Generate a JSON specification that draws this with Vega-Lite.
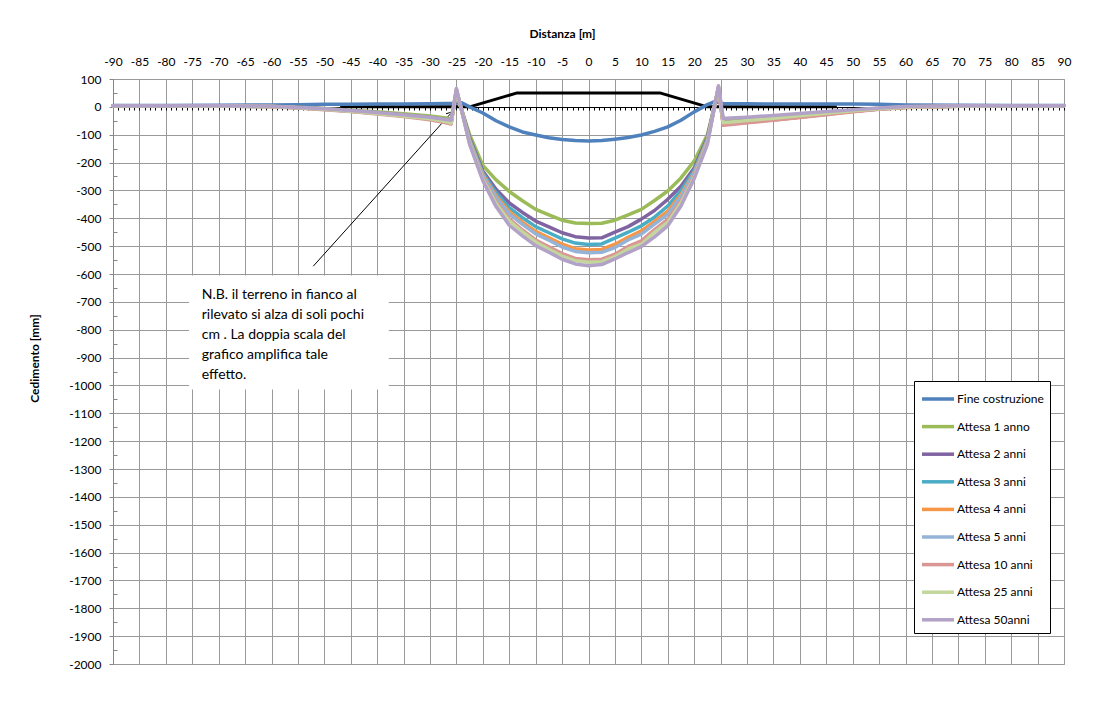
{
  "$schema": "https://vega.github.io/schema/vega-lite/v6.json",
  "width": 951,
  "height": 585,
  "autosize": "none",
  "padding": {"left": 113, "top": 79, "right": 30, "bottom": 51},
  "background": "white",
  "config": {
    "font": "Lato",
    "view": {"stroke": "#999999", "strokeWidth": 1},
    "axis": {"labelFont": "Lato", "titleFont": "Lato", "labelColor": "#000000", "titleColor": "#000000"}
  },
  "datasets": {
    "curves": [
      {"x": -90, "Fine costruzione": 5, "Attesa 1 anno": 4, "Attesa 2 anni": 4, "Attesa 3 anni": 4, "Attesa 4 anni": 4, "Attesa 5 anni": 4, "Attesa 10 anni": 4, "Attesa 25 anni": 4, "Attesa 50anni": 4},
      {"x": -80, "Fine costruzione": 5, "Attesa 1 anno": 4, "Attesa 2 anni": 4, "Attesa 3 anni": 4, "Attesa 4 anni": 4, "Attesa 5 anni": 4, "Attesa 10 anni": 4, "Attesa 25 anni": 4, "Attesa 50anni": 4},
      {"x": -70, "Fine costruzione": 6, "Attesa 1 anno": 4, "Attesa 2 anni": 4, "Attesa 3 anni": 3, "Attesa 4 anni": 3, "Attesa 5 anni": 3, "Attesa 10 anni": 3, "Attesa 25 anni": 3, "Attesa 50anni": 4},
      {"x": -60, "Fine costruzione": 7, "Attesa 1 anno": 2, "Attesa 2 anni": 2, "Attesa 3 anni": 1, "Attesa 4 anni": 1, "Attesa 5 anni": 1, "Attesa 10 anni": 0, "Attesa 25 anni": 1, "Attesa 50anni": 2},
      {"x": -55, "Fine costruzione": 8, "Attesa 1 anno": -1, "Attesa 2 anni": -2, "Attesa 3 anni": -3, "Attesa 4 anni": -3, "Attesa 5 anni": -3, "Attesa 10 anni": -4, "Attesa 25 anni": -3, "Attesa 50anni": -2},
      {"x": -50, "Fine costruzione": 9, "Attesa 1 anno": -6, "Attesa 2 anni": -7, "Attesa 3 anni": -8, "Attesa 4 anni": -9, "Attesa 5 anni": -9, "Attesa 10 anni": -10, "Attesa 25 anni": -9, "Attesa 50anni": -7},
      {"x": -45, "Fine costruzione": 9, "Attesa 1 anno": -12, "Attesa 2 anni": -14, "Attesa 3 anni": -15, "Attesa 4 anni": -16, "Attesa 5 anni": -16, "Attesa 10 anni": -17, "Attesa 25 anni": -16, "Attesa 50anni": -13},
      {"x": -40, "Fine costruzione": 10, "Attesa 1 anno": -18, "Attesa 2 anni": -21, "Attesa 3 anni": -23, "Attesa 4 anni": -24, "Attesa 5 anni": -24, "Attesa 10 anni": -26, "Attesa 25 anni": -24, "Attesa 50anni": -20},
      {"x": -35, "Fine costruzione": 10, "Attesa 1 anno": -25, "Attesa 2 anni": -29, "Attesa 3 anni": -31, "Attesa 4 anni": -33, "Attesa 5 anni": -33, "Attesa 10 anni": -35, "Attesa 25 anni": -33, "Attesa 50anni": -28},
      {"x": -30, "Fine costruzione": 11, "Attesa 1 anno": -33, "Attesa 2 anni": -38, "Attesa 3 anni": -41, "Attesa 4 anni": -43, "Attesa 5 anni": -43, "Attesa 10 anni": -46, "Attesa 25 anni": -43, "Attesa 50anni": -37},
      {"x": -27, "Fine costruzione": 12, "Attesa 1 anno": -40, "Attesa 2 anni": -46, "Attesa 3 anni": -50, "Attesa 4 anni": -53, "Attesa 5 anni": -53, "Attesa 10 anni": -57, "Attesa 25 anni": -53, "Attesa 50anni": -45},
      {"x": -26, "Fine costruzione": 12, "Attesa 1 anno": -44, "Attesa 2 anni": -50, "Attesa 3 anni": -55, "Attesa 4 anni": -58, "Attesa 5 anni": -58, "Attesa 10 anni": -62, "Attesa 25 anni": -58, "Attesa 50anni": -48},
      {"x": -25, "Fine costruzione": 14, "Attesa 1 anno": 50, "Attesa 2 anni": 54, "Attesa 3 anni": 56, "Attesa 4 anni": 58, "Attesa 5 anni": 60, "Attesa 10 anni": 62, "Attesa 25 anni": 63, "Attesa 50anni": 66},
      {"x": -24, "Fine costruzione": 15, "Attesa 1 anno": null, "Attesa 2 anni": null, "Attesa 3 anni": null, "Attesa 4 anni": null, "Attesa 5 anni": null, "Attesa 10 anni": null, "Attesa 25 anni": null, "Attesa 50anni": null},
      {"x": -22.5, "Fine costruzione": 0, "Attesa 1 anno": -100, "Attesa 2 anni": -111, "Attesa 3 anni": -116, "Attesa 4 anni": -121, "Attesa 5 anni": -123, "Attesa 10 anni": -129, "Attesa 25 anni": -131, "Attesa 50anni": -135},
      {"x": -20, "Fine costruzione": -22, "Attesa 1 anno": -210, "Attesa 2 anni": -230, "Attesa 3 anni": -237, "Attesa 4 anni": -243, "Attesa 5 anni": -247, "Attesa 10 anni": -256, "Attesa 25 anni": -260, "Attesa 50anni": -265},
      {"x": -17.5, "Fine costruzione": -50, "Attesa 1 anno": -262, "Attesa 2 anni": -296, "Attesa 3 anni": -308, "Attesa 4 anni": -320, "Attesa 5 anni": -326, "Attesa 10 anni": -341, "Attesa 25 anni": -347, "Attesa 50anni": -358},
      {"x": -15, "Fine costruzione": -72, "Attesa 1 anno": -304, "Attesa 2 anni": -345, "Attesa 3 anni": -362, "Attesa 4 anni": -376, "Attesa 5 anni": -384, "Attesa 10 anni": -402, "Attesa 25 anni": -409, "Attesa 50anni": -425},
      {"x": -12.5, "Fine costruzione": -90, "Attesa 1 anno": -337, "Attesa 2 anni": -379, "Attesa 3 anni": -398, "Attesa 4 anni": -414, "Attesa 5 anni": -422, "Attesa 10 anni": -442, "Attesa 25 anni": -449, "Attesa 50anni": -463},
      {"x": -10, "Fine costruzione": -101, "Attesa 1 anno": -368, "Attesa 2 anni": -410, "Attesa 3 anni": -430, "Attesa 4 anni": -447, "Attesa 5 anni": -456, "Attesa 10 anni": -478, "Attesa 25 anni": -485, "Attesa 50anni": -498},
      {"x": -7.5, "Fine costruzione": -111, "Attesa 1 anno": -388, "Attesa 2 anni": -431, "Attesa 3 anni": -452, "Attesa 4 anni": -470, "Attesa 5 anni": -479, "Attesa 10 anni": -502, "Attesa 25 anni": -511, "Attesa 50anni": -522},
      {"x": -5, "Fine costruzione": -117, "Attesa 1 anno": -407, "Attesa 2 anni": -452, "Attesa 3 anni": -474, "Attesa 4 anni": -493, "Attesa 5 anni": -503, "Attesa 10 anni": -527, "Attesa 25 anni": -536, "Attesa 50anni": -547},
      {"x": -2.5, "Fine costruzione": -121, "Attesa 1 anno": -417, "Attesa 2 anni": -466, "Attesa 3 anni": -489, "Attesa 4 anni": -509, "Attesa 5 anni": -519, "Attesa 10 anni": -544, "Attesa 25 anni": -552, "Attesa 50anni": -564},
      {"x": 0, "Fine costruzione": -123, "Attesa 1 anno": -419, "Attesa 2 anni": -471, "Attesa 3 anni": -494, "Attesa 4 anni": -514, "Attesa 5 anni": -524, "Attesa 10 anni": -549, "Attesa 25 anni": -558, "Attesa 50anni": -570},
      {"x": 2.5, "Fine costruzione": -121, "Attesa 1 anno": -418, "Attesa 2 anni": -470, "Attesa 3 anni": -492, "Attesa 4 anni": -512, "Attesa 5 anni": -522, "Attesa 10 anni": -547, "Attesa 25 anni": -556, "Attesa 50anni": -566},
      {"x": 5, "Fine costruzione": -116, "Attesa 1 anno": -407, "Attesa 2 anni": -450, "Attesa 3 anni": -471, "Attesa 4 anni": -493, "Attesa 5 anni": -505, "Attesa 10 anni": -529, "Attesa 25 anni": -538, "Attesa 50anni": -546},
      {"x": 7.5, "Fine costruzione": -110, "Attesa 1 anno": -388, "Attesa 2 anni": -430, "Attesa 3 anni": -450, "Attesa 4 anni": -468, "Attesa 5 anni": -478, "Attesa 10 anni": -501, "Attesa 25 anni": -510, "Attesa 50anni": -523},
      {"x": 10, "Fine costruzione": -101, "Attesa 1 anno": -368, "Attesa 2 anni": -403, "Attesa 3 anni": -427, "Attesa 4 anni": -445, "Attesa 5 anni": -457, "Attesa 10 anni": -481, "Attesa 25 anni": -493, "Attesa 50anni": -502},
      {"x": 12.5, "Fine costruzione": -88, "Attesa 1 anno": -336, "Attesa 2 anni": -372, "Attesa 3 anni": -396, "Attesa 4 anni": -411, "Attesa 5 anni": -421, "Attesa 10 anni": -441, "Attesa 25 anni": -450, "Attesa 50anni": -467},
      {"x": 15, "Fine costruzione": -72, "Attesa 1 anno": -302, "Attesa 2 anni": -332, "Attesa 3 anni": -356, "Attesa 4 anni": -374, "Attesa 5 anni": -386, "Attesa 10 anni": -404, "Attesa 25 anni": -415, "Attesa 50anni": -427},
      {"x": 17.5, "Fine costruzione": -48, "Attesa 1 anno": -255, "Attesa 2 anni": -285, "Attesa 3 anni": -300, "Attesa 4 anni": -315, "Attesa 5 anni": -322, "Attesa 10 anni": -338, "Attesa 25 anni": -345, "Attesa 50anni": -356},
      {"x": 20, "Fine costruzione": -18, "Attesa 1 anno": -195, "Attesa 2 anni": -220, "Attesa 3 anni": -228, "Attesa 4 anni": -236, "Attesa 5 anni": -240, "Attesa 10 anni": -250, "Attesa 25 anni": -254, "Attesa 50anni": -258},
      {"x": 22.5, "Fine costruzione": 8, "Attesa 1 anno": -100, "Attesa 2 anni": -110, "Attesa 3 anni": -115, "Attesa 4 anni": -120, "Attesa 5 anni": -122, "Attesa 10 anni": -127, "Attesa 25 anni": -130, "Attesa 50anni": -135},
      {"x": 24, "Fine costruzione": 20, "Attesa 1 anno": null, "Attesa 2 anni": null, "Attesa 3 anni": null, "Attesa 4 anni": null, "Attesa 5 anni": null, "Attesa 10 anni": null, "Attesa 25 anni": null, "Attesa 50anni": null},
      {"x": 24.6, "Fine costruzione": 16, "Attesa 1 anno": 62, "Attesa 2 anni": 65, "Attesa 3 anni": 67, "Attesa 4 anni": 68, "Attesa 5 anni": 70, "Attesa 10 anni": 71, "Attesa 25 anni": 73, "Attesa 50anni": 76},
      {"x": 25.5, "Fine costruzione": 12, "Attesa 1 anno": -48, "Attesa 2 anni": -56, "Attesa 3 anni": -60, "Attesa 4 anni": -64, "Attesa 5 anni": -62, "Attesa 10 anni": -66, "Attesa 25 anni": -56, "Attesa 50anni": -42},
      {"x": 27, "Fine costruzione": 11, "Attesa 1 anno": -46, "Attesa 2 anni": -54, "Attesa 3 anni": -58, "Attesa 4 anni": -62, "Attesa 5 anni": -60, "Attesa 10 anni": -63, "Attesa 25 anni": -54, "Attesa 50anni": -40},
      {"x": 30, "Fine costruzione": 11, "Attesa 1 anno": -42, "Attesa 2 anni": -50, "Attesa 3 anni": -53, "Attesa 4 anni": -56, "Attesa 5 anni": -55, "Attesa 10 anni": -57, "Attesa 25 anni": -49, "Attesa 50anni": -37},
      {"x": 35, "Fine costruzione": 10, "Attesa 1 anno": -35, "Attesa 2 anni": -42, "Attesa 3 anni": -45, "Attesa 4 anni": -47, "Attesa 5 anni": -46, "Attesa 10 anni": -48, "Attesa 25 anni": -41, "Attesa 50anni": -31},
      {"x": 40, "Fine costruzione": 10, "Attesa 1 anno": -27, "Attesa 2 anni": -33, "Attesa 3 anni": -35, "Attesa 4 anni": -37, "Attesa 5 anni": -36, "Attesa 10 anni": -38, "Attesa 25 anni": -32, "Attesa 50anni": -24},
      {"x": 45, "Fine costruzione": 10, "Attesa 1 anno": -19, "Attesa 2 anni": -24, "Attesa 3 anni": -26, "Attesa 4 anni": -27, "Attesa 5 anni": -26, "Attesa 10 anni": -28, "Attesa 25 anni": -23, "Attesa 50anni": -17},
      {"x": 50, "Fine costruzione": 10, "Attesa 1 anno": -12, "Attesa 2 anni": -15, "Attesa 3 anni": -16, "Attesa 4 anni": -17, "Attesa 5 anni": -16, "Attesa 10 anni": -18, "Attesa 25 anni": -14, "Attesa 50anni": -10},
      {"x": 55, "Fine costruzione": 9, "Attesa 1 anno": -5, "Attesa 2 anni": -7, "Attesa 3 anni": -8, "Attesa 4 anni": -8, "Attesa 5 anni": -8, "Attesa 10 anni": -9, "Attesa 25 anni": -7, "Attesa 50anni": -4},
      {"x": 60, "Fine costruzione": 7, "Attesa 1 anno": 0, "Attesa 2 anni": -1, "Attesa 3 anni": -1, "Attesa 4 anni": -2, "Attesa 5 anni": -1, "Attesa 10 anni": -2, "Attesa 25 anni": -1, "Attesa 50anni": 1},
      {"x": 70, "Fine costruzione": 6, "Attesa 1 anno": 3, "Attesa 2 anni": 3, "Attesa 3 anni": 2, "Attesa 4 anni": 2, "Attesa 5 anni": 2, "Attesa 10 anni": 2, "Attesa 25 anni": 3, "Attesa 50anni": 4},
      {"x": 80, "Fine costruzione": 5, "Attesa 1 anno": 4, "Attesa 2 anni": 4, "Attesa 3 anni": 4, "Attesa 4 anni": 4, "Attesa 5 anni": 4, "Attesa 10 anni": 4, "Attesa 25 anni": 4, "Attesa 50anni": 4},
      {"x": 90, "Fine costruzione": 5, "Attesa 1 anno": 4, "Attesa 2 anni": 4, "Attesa 3 anni": 4, "Attesa 4 anni": 4, "Attesa 5 anni": 4, "Attesa 10 anni": 4, "Attesa 25 anni": 4, "Attesa 50anni": 4}
    ],
    "profile": [
      {"x": -47, "y": 0}, {"x": -22.5, "y": 0}, {"x": -13.5, "y": 50}, {"x": 13.5, "y": 50}, {"x": 22.5, "y": 0}, {"x": 47, "y": 0}
    ],
    "box": [{"x1": -75.6, "x2": -37.8, "y1": -605, "y2": -1015}],
    "note": [{"x": -73.2, "y": -651, "t": "N.B. il terreno in fianco al\nrilevato si alza di soli pochi\ncm . La doppia scala del\ngrafico amplifica tale\neffetto."}],
    "arrow": [{"x1": -52.1, "y1": -572, "x2": -25.8, "y2": -18}]
  },
  "layer": [
    {
      "data": {"name": "profile"},
      "mark": {"type": "line", "color": "#000000", "strokeWidth": 3, "strokeJoin": "round"},
      "encoding": {
        "x": {"field": "x", "type": "quantitative", "scale": {"domain": [-90, 90], "nice": false, "zero": false},
          "axis": {"orient": "top", "values": [-90,-85,-80,-75,-70,-65,-60,-55,-50,-45,-40,-35,-30,-25,-20,-15,-10,-5,0,5,10,15,20,25,30,35,40,45,50,55,60,65,70,75,80,85,90],
            "labelExpr": "'' + datum.value",
            "grid": true, "gridColor": "#999999", "gridWidth": 1, "ticks": false, "tickSize": 0, "domain": false,
            "labelFontSize": 12, "labelPadding": 11, "labelFlush": false, "labelOverlap": false,
            "title": "Distanza  [m]", "titleFontSize": 12, "titleFontWeight": "bold", "titlePadding": 15, "titleX": 449}},
        "y": {"field": "y", "type": "quantitative", "scale": {"domain": [-2000, 100], "nice": false, "zero": false},
          "axis": {"orient": "left", "values": [-2000,-1900,-1800,-1700,-1600,-1500,-1400,-1300,-1200,-1100,-1000,-900,-800,-700,-600,-500,-400,-300,-200,-100,0,100],
            "labelExpr": "'' + datum.value",
            "grid": true, "gridColor": "#999999", "gridWidth": 1, "domain": true, "domainColor": "#868686", "tickColor": "#868686", "tickSize": 4,
            "labelFontSize": 12, "labelPadding": 8, "labelFlush": false, "labelOverlap": false,
            "title": "Cedimento [mm]", "titleFontSize": 12, "titleFontWeight": "bold", "titleX": -79, "titleY": 279, "titleAlign": "center", "titleBaseline": "middle", "titleAngle": 270}}
      }
    },
    {
      "data": {"name": "box"},
      "mark": {"type": "rect", "fill": "#ffffff", "stroke": null},
      "encoding": {
        "x": {"field": "x1", "type": "quantitative",
          "axis": {"orient": "bottom", "offset": -557, "tickCount": 180, "labels": false, "grid": false, "title": null,
            "domain": true, "domainColor": "#000000", "domainWidth": 1, "ticks": true, "tickColor": "#000000", "tickSize": 3, "tickWidth": 1}},
        "x2": {"field": "x2"},
        "y": {"field": "y1", "type": "quantitative",
          "axis": {"orient": "left", "values": [-1950,-1850,-1750,-1650,-1550,-1450,-1350,-1250,-1150,-1050,-950,-850,-750,-650,-550,-450,-350,-250,-150,-50,50],
            "labels": false, "grid": false, "title": null, "domain": false, "ticks": true, "tickColor": "#868686", "tickSize": -4}},
        "y2": {"field": "y2"}
      }
    },
    {
      "data": {"name": "note"},
      "mark": {"type": "text", "align": "left", "baseline": "top", "lineBreak": "\n", "lineHeight": 20, "fontSize": 14, "font": "Lato", "color": "#000000"},
      "encoding": {
        "x": {"field": "x", "type": "quantitative", "axis": null},
        "y": {"field": "y", "type": "quantitative", "axis": null},
        "text": {"field": "t"}
      }
    },
    {
      "data": {"name": "arrow"},
      "mark": {"type": "rule", "color": "#000000", "strokeWidth": 1},
      "encoding": {
        "x": {"field": "x1", "type": "quantitative", "axis": null},
        "y": {"field": "y1", "type": "quantitative", "axis": null},
        "x2": {"field": "x2"},
        "y2": {"field": "y2"}
      }
    },
    {
      "data": {"name": "arrow"},
      "mark": {"type": "point", "shape": "M-0.6,1L0,0L0.6,1", "filled": false, "stroke": "#000000", "strokeWidth": 1, "size": 120, "angle": 42, "opacity": 1},
      "encoding": {
        "x": {"field": "x2", "type": "quantitative", "axis": null},
        "y": {"field": "y2", "type": "quantitative", "axis": null}
      }
    },
    {
      "data": {"name": "curves"},
      "transform": [
        {"fold": ["Fine costruzione", "Attesa 1 anno", "Attesa 2 anni", "Attesa 3 anni", "Attesa 4 anni", "Attesa 5 anni", "Attesa 10 anni", "Attesa 25 anni", "Attesa 50anni"], "as": ["serie", "y"]},
        {"filter": "isValid(datum.y)"}
      ],
      "mark": {"type": "line", "strokeWidth": 3.5, "strokeJoin": "round", "strokeCap": "round"},
      "encoding": {
        "x": {"field": "x", "type": "quantitative", "axis": null},
        "y": {"field": "y", "type": "quantitative", "axis": null},
        "color": {"field": "serie", "type": "nominal",
          "scale": {"domain": ["Fine costruzione", "Attesa 1 anno", "Attesa 2 anni", "Attesa 3 anni", "Attesa 4 anni", "Attesa 5 anni", "Attesa 10 anni", "Attesa 25 anni", "Attesa 50anni"],
            "range": ["#4F81BD", "#9BBB59", "#8064A2", "#4BACC6", "#F79646", "#95B3D7", "#D99694", "#C3D69B", "#B3A2C7"]},
          "legend": {"orient": "none", "legendX": 801, "legendY": 302, "direction": "vertical", "title": null,
            "strokeColor": "#000000", "fillColor": "#ffffff", "padding": 6,
            "symbolType": "M-1.6,0L1.6,0", "symbolSize": 400, "symbolStrokeWidth": 3.5, "symbolOpacity": 1, "symbolOffset": 6,
            "labelFont": "Lato", "labelFontSize": 12, "labelColor": "#000000", "labelOffset": 7, "rowPadding": 8.6}}
      }
    }
  ],
  "resolve": {"axis": {"x": "independent", "y": "independent"}}
}
